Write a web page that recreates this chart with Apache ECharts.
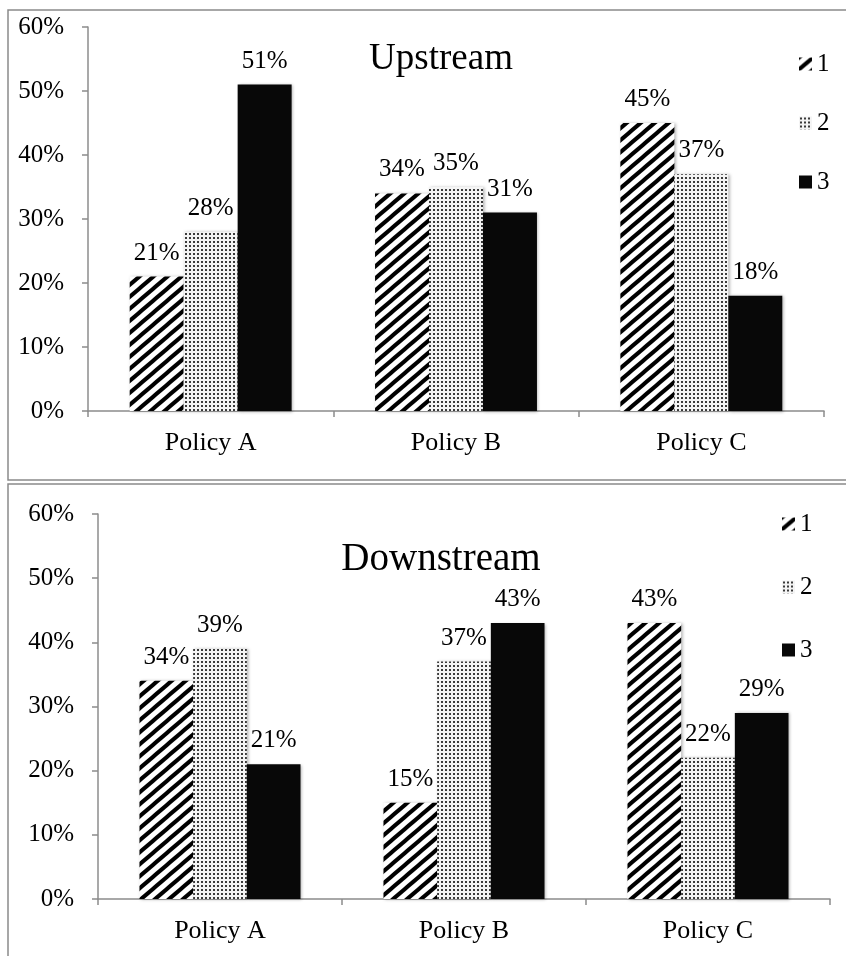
<!DOCTYPE html>
<html>
<head>
<meta charset="utf-8">
<script src="https://cdn.jsdelivr.net/npm/echarts@6/dist/echarts.min.js"></script>
<style>
  html, body { margin: 0; padding: 0; background: #fff; }
  #chart { width: 846px; height: 956px; }
</style>
</head>
<body>
<div id="chart"></div>
<script>
// Categories and series values (percent)
const categories = ['Policy A', 'Policy B', 'Policy C'];
const seriesNames = ['1', '2', '3'];
const yTicks = [0, 10, 20, 30, 40, 50, 60];

const upstream1 = [21, 34, 45];
const upstream2 = [28, 35, 37];
const upstream3 = [51, 31, 18];

const downstream1 = [34, 15, 43];
const downstream2 = [39, 37, 22];
const downstream3 = [21, 43, 29];

const FONT = '"Liberation Serif", "Times New Roman", serif';

// Diagonal stripe fill
function hatchTile() {
  const w = 14, h = 12;
  const c = document.createElement('canvas');
  c.width = w; c.height = h;
  const g = c.getContext('2d');
  g.fillStyle = '#ffffff';
  g.fillRect(0, 0, w, h);
  g.strokeStyle = '#000000';
  g.lineWidth = 4;
  for (const dx of [-w, 0, w]) {
    g.beginPath();
    g.moveTo(dx - w / 2, h * 1.5);
    g.lineTo(dx + w * 1.5, -h / 2);
    g.stroke();
  }
  return c;
}

// Fine dot fill
function dotTile() {
  const c = document.createElement('canvas');
  c.width = 4; c.height = 4;
  const g = c.getContext('2d');
  g.fillStyle = '#f4f4f4';
  g.fillRect(0, 0, 4, 4);
  g.fillStyle = '#3a3a3a';
  g.fillRect(1, 1, 2, 2);
  return c;
}

const fills = [
  { image: hatchTile(), repeat: 'repeat' },
  { image: dotTile(), repeat: 'repeat' },
  '#080808'
];

const panels = [
  { grid: { left: 88, right: 22, top: 27, bottom: 545 } },
  { grid: { left: 98, right: 16, top: 514, bottom: 57 } }
];
panels[0].data = [upstream1, upstream2, upstream3];
panels[1].data = [downstream1, downstream2, downstream3];

const axisLineStyle = { color: '#8c8c8c', width: 1.5 };

const legendBase = {
  orient: 'vertical', icon: 'rect', itemWidth: 13, itemHeight: 13,
  data: seriesNames, selectedMode: false,
  textStyle: { fontFamily: FONT, fontSize: 25, color: '#000', lineHeight: 26 }
};

const option = {
  animation: false,
  backgroundColor: '#ffffff',
  textStyle: { fontFamily: FONT, color: '#000' },
  title: [
    { text: 'Upstream', left: 436, top: 36, textAlign: 'center',
      textStyle: { fontFamily: FONT, fontWeight: 'normal', fontSize: 37, color: '#000' } },
    { text: 'Downstream', left: 436, top: 535, textAlign: 'center',
      textStyle: { fontFamily: FONT, fontWeight: 'normal', fontSize: 39, color: '#000' } }
  ],
  legend: [
    Object.assign({}, legendBase, { left: 794, top: 46, itemGap: 33 }),
    Object.assign({}, legendBase, { left: 777, top: 506, itemGap: 37 })
  ],
  graphic: [
    { type: 'rect', shape: { x: 8, y: 10, width: 860, height: 470 },
      style: { fill: 'none', stroke: '#8a8a8a', lineWidth: 1.5 }, silent: true },
    { type: 'rect', shape: { x: 8, y: 484, width: 860, height: 500 },
      style: { fill: 'none', stroke: '#8a8a8a', lineWidth: 1.5 }, silent: true }
  ],
  grid: panels.map(p => p.grid),
  xAxis: panels.map((p, i) => ({
    type: 'category', gridIndex: i, data: categories,
    axisLine: { lineStyle: axisLineStyle },
    axisTick: { show: true, length: 6, lineStyle: axisLineStyle },
    axisLabel: { fontFamily: FONT, fontSize: 26, color: '#000', margin: 19 }
  })),
  yAxis: panels.map((p, i) => ({
    type: 'value', gridIndex: i, min: yTicks[0], max: yTicks[yTicks.length - 1], interval: 10,
    axisLine: { show: true, lineStyle: axisLineStyle },
    axisTick: { show: true, length: 6, lineStyle: axisLineStyle },
    splitLine: { show: false },
    axisLabel: { fontFamily: FONT, fontSize: 25, color: '#000', margin: 24,
      formatter: v => v + '%' }
  })),
  series: []
};

panels.forEach((p, pi) => {
  p.data.forEach((vals, si) => {
    option.series.push({
      type: 'bar',
      name: seriesNames[si],
      xAxisIndex: pi, yAxisIndex: pi,
      data: vals,
      barGap: '0%',
      barCategoryGap: '34%',
      itemStyle: {
        color: fills[si],
        shadowColor: 'rgba(0,0,0,0.3)', shadowBlur: 3, shadowOffsetX: 1.5, shadowOffsetY: 0.5
      },
      label: {
        show: true, position: 'top', distance: 11,
        fontFamily: FONT, fontSize: 25, color: '#000',
        formatter: '{c}%'
      }
    });
  });
});

const chart = echarts.init(document.getElementById('chart'), null, { renderer: 'canvas' });
chart.setOption(option);
</script>
</body>
</html>
